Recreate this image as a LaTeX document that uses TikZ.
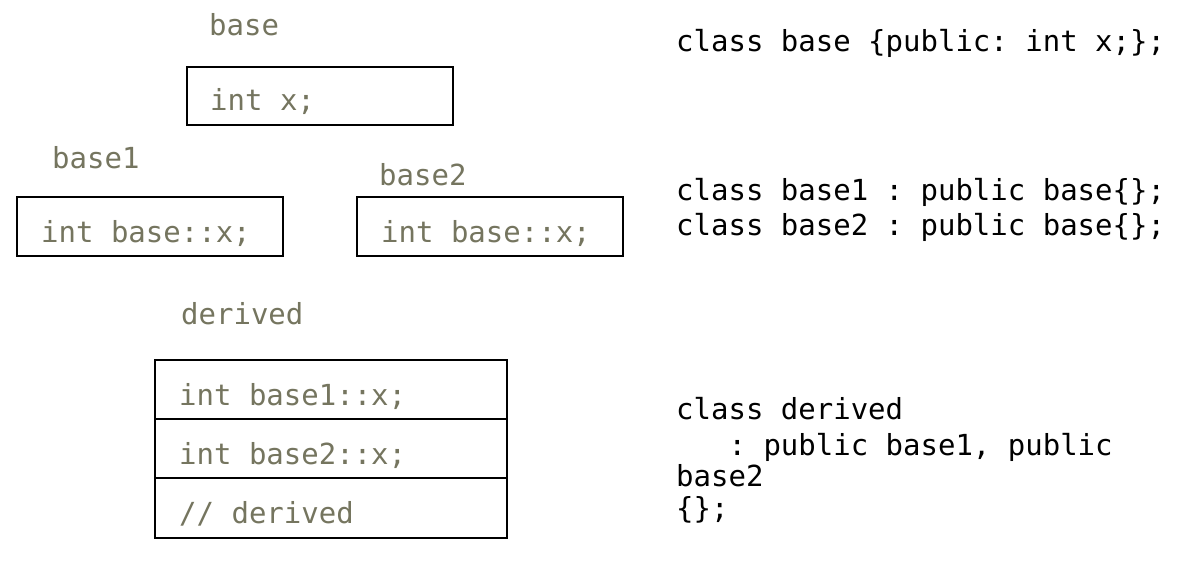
\documentclass[tikz,border=0pt]{standalone}
\usepackage{fontspec}
\setmonofont{DejaVu Sans Mono}
\definecolor{labelc}{RGB}{117,117,95}
\begin{document}
\begin{tikzpicture}[x=1pt,y=-1pt,
  lbl/.style={anchor=base west,inner sep=0pt,text=labelc,font=\ttfamily\fontsize{29}{29}\selectfont},
  code/.style={anchor=base west,inner sep=0pt,text=black,font=\ttfamily\fontsize{29}{29}\selectfont},
  boxst/.style={draw=black,line width=2pt}]
\useasboundingbox[fill=white] (0,0) rectangle (1183,563);
% base
\node[lbl] (lbase) at (209,35) {base};
\draw[boxst] (187,67) rectangle (453,125);
\node[lbl] (tbase) at (210,110) {int x;};
% base1
\node[lbl] (lbase1) at (52,168) {base1};
\draw[boxst] (17,197) rectangle (283,256);
\node[lbl] (tbase1) at (41,242) {int base::x;};
% base2
\node[lbl] (lbase2) at (379,185) {base2};
\draw[boxst] (357,197) rectangle (623,256);
\node[lbl] (tbase2) at (381,242) {int base::x;};
% derived
\node[lbl] (lder) at (181,324) {derived};
\draw[boxst] (155,360) rectangle (507,538);
\draw[boxst] (155,419) -- (507,419);
\draw[boxst] (155,478) -- (507,478);
\node[lbl] (td1) at (179,405) {int base1::x;};
\node[lbl] (td2) at (179,464) {int base2::x;};
\node[lbl] (td3) at (179,523) {// derived};
% code
\node[code] (c1) at (676,51) {class base \{public: int x;\};};
\node[code] (c2) at (676,200) {class base1 : public base\{\};};
\node[code] (c3) at (676,235) {class base2 : public base\{\};};
\node[code] (c4) at (676,419) {class derived};
\node[code] (c5) at (676,455) {\ \ \ : public base1, public};
\node[code] (c6) at (676,486) {base2};
\node[code] (c7) at (676,518) {\{\};};
\end{tikzpicture}
\end{document}
